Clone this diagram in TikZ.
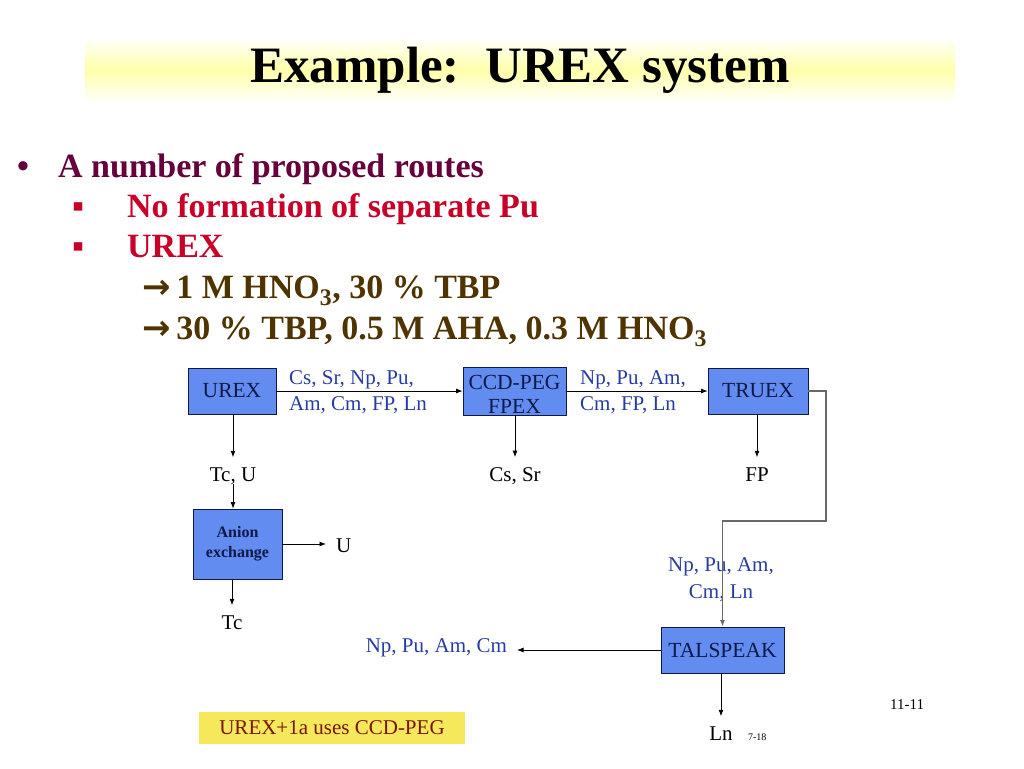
\documentclass[tikz,border=0pt]{standalone}
\usepackage{fontspec}
\setmainfont{Liberation Serif}
\newfontfamily\arrowfont{DejaVu Sans}
\usetikzlibrary{positioning, arrows.meta}

\definecolor{titleyellow}{RGB}{255,255,170}
\definecolor{routepurple}{RGB}{102,0,60}
\definecolor{routered}{RGB}{200,0,40}
\definecolor{routebrown}{RGB}{80,52,0}
\definecolor{boxblue}{RGB}{98,140,240}
\definecolor{boxtext}{RGB}{15,25,70}
\definecolor{flowblue}{RGB}{40,60,160}
\definecolor{noteyellow}{RGB}{245,232,90}
\definecolor{notered}{RGB}{120,20,10}
\definecolor{pipegray}{RGB}{105,105,105}

\newcommand{\fsz}[2]{\fontsize{#1}{#2}\selectfont}
\newcommand{\leadarrow}{{\arrowfont\bfseries →}\,}

\begin{document}
\begin{tikzpicture}[x=1pt, y=-1pt,
    unit/.style={rectangle, draw=boxtext, line width=0.8pt, fill=boxblue, text=boxtext, inner sep=0pt, font=\fsz{21.5}{24}, align=center},
    stream/.style={inner sep=0pt, outer sep=10pt, font=\fsz{21}{26}},
    flow/.style={text=flowblue, inner sep=0pt, font=\fsz{21}{26}},
    pipe/.style={line width=0.8pt, -{Latex[length=6.5pt,width=5pt]}},
    bullettext/.style={anchor=base west, inner sep=0pt, font=\bfseries\fsz{34}{40}}]
    \useasboundingbox (0,0) rectangle (1024,768);

    % title
    \node[top color=white, bottom color=white, middle color=titleyellow, minimum width=870pt, minimum height=66pt, inner sep=0pt, font=\bfseries\fsz{51}{60}] (title) at (520,70) {Example:\ \ UREX system};

    % bullets
    \node[bullettext, text=routepurple] (dot1) at (17,177) {•};
    \node[bullettext, text=routepurple] (routes) at (58,177) {A number of proposed routes};
    \node[bullettext, text=routered] (sq1) at (72,217) {\char"25AA};
    \node[bullettext, text=routered] (nopu) at (127,217) {No formation of separate Pu};
    \node[bullettext, text=routered] (sq2) at (72,257) {\char"25AA};
    \node[bullettext, text=routered] (urexhead) at (127,257) {UREX};
    \node[bullettext, text=routebrown] (feedacid) at (142,298) {\leadarrow 1 M HNO\textsubscript{3}, 30 \% TBP};
    \node[bullettext, text=routebrown] (solvent) at (142,339) {\leadarrow 30 \% TBP, 0.5 M AHA, 0.3 M HNO\textsubscript{3}};

    % process units
    \node[unit, minimum width=88pt, minimum height=46pt] (urex) at (232,391) {UREX};
    \node[unit, minimum width=103pt, minimum height=46pt] (ccd) at (514.5,391) {\raisebox{-6pt}[\height][\depth]{\begin{tabular}{@{}c@{}}CCD-PEG\\FPEX\end{tabular}}};
    \node[unit, minimum width=100pt, minimum height=46pt] (truex) at (758,391) {TRUEX};
    \node[unit, minimum width=89pt, minimum height=70pt, font=\bfseries\fsz{16}{20}] (anion) at (237.5,544) {Anion\\exchange};
    \node[unit, minimum width=123pt, minimum height=46pt] (talspeak) at (722.5,650) {TALSPEAK};

    % products
    \node[stream, anchor=base] (tcu) at (233,481) {Tc, U};
    \node[stream, anchor=base] (cssr) at (515,481) {Cs, Sr};
    \node[stream, anchor=base] (fp) at (757,481) {FP};
    \node[stream, anchor=base west] (u) at (326,552) {U};
    \node[stream, anchor=base] (tc) at (232,629) {Tc};
    \node[stream, anchor=base] (ln) at (721,740) {Ln};
    \node[stream, anchor=base west, outer sep=0pt, font=\fsz{10}{12}] (page) at (748,740) {7-18};
    \node[stream, anchor=base east, outer sep=0pt, font=\fsz{15}{18}] (slide) at (924,709) {11-11};

    % flow labels
    \node[flow, anchor=west, align=left] (feed1) at (289,392) {Cs, Sr, Np, Pu,\\Am, Cm, FP, Ln};
    \node[flow, anchor=west, align=left] (feed2) at (580,392) {Np, Pu, Am,\\Cm, FP, Ln};
    \node[flow, align=center, font=\fsz{21}{27}] (feed3) at (721,580) {Np, Pu, Am,\\Cm, Ln};
    \node[flow, anchor=base east, outer sep=10pt] (actinides) at (517,652) {Np, Pu, Am, Cm};

    \node[fill=noteyellow, text=notered, minimum width=266pt, minimum height=32pt, inner sep=0pt, font=\fsz{21}{25}] (note) at (332,728) {UREX+1a uses CCD-PEG};

    \coordinate (bend) at (826,521);

    \draw[pipe] (urex) -- (ccd);
    \draw[pipe] (ccd) -- (truex);
    \draw[pipe] (urex.south -| tcu) -- (tcu);
    \draw[pipe] ([yshift=-3pt]tcu.base) -- (tcu.base |- anion.north);
    \draw[pipe] (anion.east) -- (anion.east -| u.west);
    \draw[pipe] (anion.south -| tc) -- (tc);
    \draw[pipe] (ccd.south -| cssr) -- (cssr);
    \draw[pipe] (truex.south -| fp) -- (fp);
    \draw[pipe, draw=pipegray, line width=1.6pt] (truex.east) -| (bend) -| (talspeak.north);
    \draw[pipe] (talspeak) -- (talspeak -| actinides.east);
    \draw[pipe] (talspeak.south -| ln) -- (ln);
\end{tikzpicture}
\end{document}
